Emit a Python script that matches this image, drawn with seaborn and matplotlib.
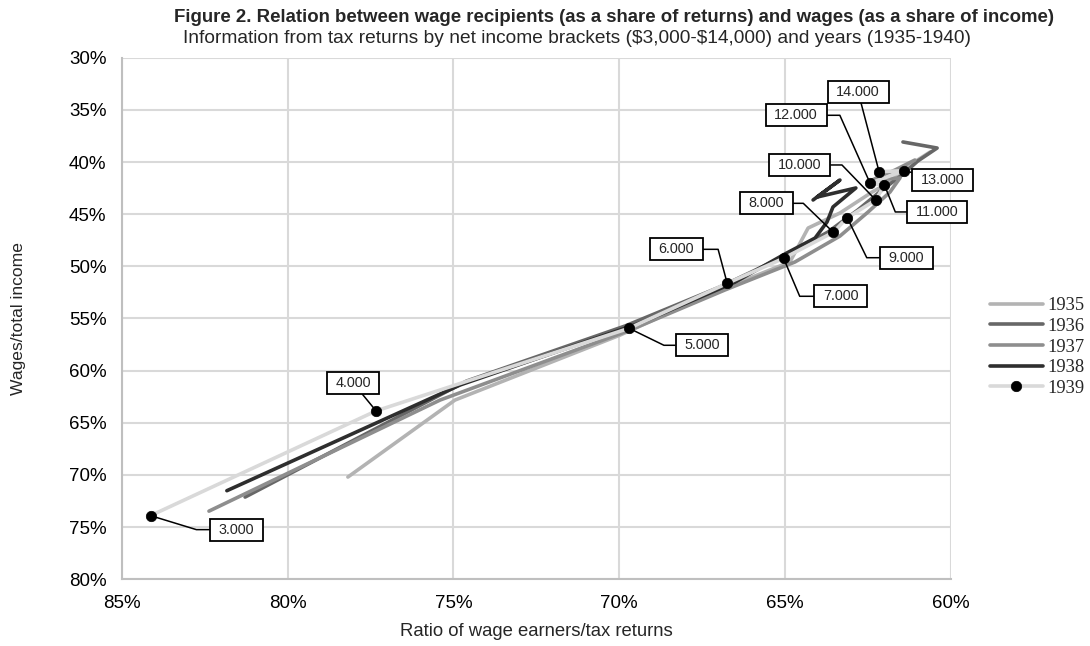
import numpy as np
import pandas as pd
import matplotlib
matplotlib.use("Agg")
import matplotlib.pyplot as plt
from matplotlib.path import Path
from matplotlib.ticker import PercentFormatter
import seaborn as sns

# ---------------- data (percent values) ----------------
brackets = ["3.000", "4.000", "5.000", "6.000", "7.000", "8.000",
            "9.000", "10.000", "11.000", "12.000", "13.000", "14.000"]
years = ["1935", "1936", "1937", "1938", "1939"]

earners_1935 = [78.18, 74.95, 69.97, 67.11, 64.85, 64.30, 63.34, 62.37, 61.62, 62.13, 61.38, 60.62]
wages_1935 = [70.20, 62.82, 56.59, 52.46, 49.59, 46.33, 44.89, 42.88, 41.53, 42.68, 40.58, 39.04]

earners_1936 = [81.28, 74.60, 69.82, 66.96, 65.00, 63.70, 62.80, 62.07, 61.47, 60.99, 60.41, 61.44]
wages_1936 = [72.12, 61.00, 55.72, 51.98, 49.01, 46.71, 44.60, 42.68, 41.25, 39.90, 38.66, 38.08]

earners_1937 = [82.37, 75.40, 69.67, 66.81, 64.70, 63.34, 62.49, 61.83, 61.53, 62.37, 61.68, 61.08]
wages_1937 = [73.47, 62.82, 56.11, 52.27, 49.59, 47.10, 44.79, 42.88, 41.53, 41.73, 40.77, 39.81]

earners_1938 = [81.83, 74.80, 69.37, 66.50, 65.00, 64.09, 63.73, 63.55, 62.86, 64.03, 63.34, 64.15]
wages_1938 = [71.51, 61.38, 55.44, 51.51, 48.82, 47.29, 45.75, 44.31, 42.49, 43.36, 41.73, 43.64]

earners_1939 = [84.13, 77.33, 69.70, 66.74, 65.04, 63.54, 63.12, 62.26, 62.00, 62.43, 61.41, 62.16]
wages_1939 = [73.90, 63.86, 55.94, 51.63, 49.23, 46.74, 45.34, 43.64, 42.20, 42.04, 40.83, 40.93]

x_ticks = [85, 80, 75, 70, 65, 60]
y_ticks = [30, 35, 40, 45, 50, 55, 60, 65, 70, 75, 80]

title = "Figure 2. Relation between wage recipients (as a share of returns) and wages (as a share of income)"
subtitle = "Information from tax returns by net income brackets ($3,000-$14,000) and years (1935-1940)"
x_label = "Ratio of wage earners/tax returns"
y_label = "Wages/total income"

series = {
    "1935": (earners_1935, wages_1935),
    "1936": (earners_1936, wages_1936),
    "1937": (earners_1937, wages_1937),
    "1938": (earners_1938, wages_1938),
    "1939": (earners_1939, wages_1939),
}
df = pd.concat(
    [pd.DataFrame({"year": y, "bracket": brackets, "earners": series[y][0],
                   "wages": series[y][1], "order": range(len(brackets))})
     for y in years],
    ignore_index=True,
)

# ---------------- styles ----------------
colors = {"1935": "#b3b3b3", "1936": "#676767", "1937": "#8e8e8e",
          "1938": "#2e2e2e", "1939": "#d9d9d9"}

# label box offsets (pixels, relative to point) and leader angles
label_offsets = [(86, -14), (-23, 28), (73, -17), (-51, 34), (57, -38), (-67, 29),
                 (59, -40), (-76, 35), (53, -27), (-74, 68), (39, -9), (-21, 80)]
leader_angles = [-17, None, -26, -75, 113, -44, 116, -46, 112, -66, None, None]

sns.set_style("white")
plt.rcParams["font.family"] = ["Liberation Sans", "DejaVu Sans"]

fig = plt.figure(figsize=(10.9, 6.46), dpi=100)
ax = fig.add_axes([0.1117, 0.1033, 0.7605, 0.8074])

for yr in years:
    d = df[df["year"] == yr].sort_values("order")
    kw = {}
    if yr == "1939":
        kw = dict(marker="o", markersize=7.5, markerfacecolor="black",
                  markeredgecolor="black", markeredgewidth=0.5)
    sns.lineplot(data=d, x="earners", y="wages", sort=False, estimator=None,
                 color=colors[yr], linewidth=2.6, ax=ax, label=yr, **kw)

ax.set_xlim(85, 60)
ax.set_ylim(80, 30)
ax.set_xticks(x_ticks)
ax.set_yticks(y_ticks)
ax.xaxis.set_major_formatter(PercentFormatter(100, decimals=0))
ax.yaxis.set_major_formatter(PercentFormatter(100, decimals=0))
ax.grid(True, color="#d9d9d9", linewidth=1.5)
ax.set_axisbelow(True)
for s in ["top", "right"]:
    ax.spines[s].set_visible(False)
for s in ["left", "bottom"]:
    ax.spines[s].set_color("#bfbfbf")
    ax.spines[s].set_linewidth(1.5)
ax.tick_params(axis="both", direction="out", length=5, width=1.2, color="#bfbfbf",
               labelsize=13.5, labelcolor="black", pad=6)

ax.set_xlabel(x_label, fontsize=13.3, va="center")
ax.xaxis.set_label_coords(0.5, -0.101)
ax.set_ylabel(y_label, fontsize=12.6, va="center")
ax.yaxis.set_label_coords(-0.125, 0.5)


def label_box(x0, y0, width, height, mutation_scale):
    px = 0.6 * mutation_scale
    py = 0.27 * mutation_scale
    verts = [(x0 - px, y0 - py), (x0 + width + px, y0 - py),
             (x0 + width + px, y0 + height + py), (x0 - px, y0 + height + py),
             (x0 - px, y0 - py)]
    return Path(verts, [Path.MOVETO, Path.LINETO, Path.LINETO, Path.LINETO, Path.CLOSEPOLY])


for i, b in enumerate(brackets):
    ang = leader_angles[i]
    if ang is None:
        cs = "arc3,rad=0"
    else:
        cs = f"angle,angleA=0,angleB={ang},rad=0"
    ax.annotate(b, xy=(earners_1939[i], wages_1939[i]), xytext=label_offsets[i],
                textcoords="offset pixels", ha="center", va="center", fontsize=10.4,
                bbox=dict(boxstyle=label_box, fc="white", ec="black", lw=1.3),
                arrowprops=dict(arrowstyle="-", color="black", lw=1.1,
                                connectionstyle=cs, shrinkA=0, shrinkB=3),
                zorder=5)

fig.text(614.5 / 1090, 1 - 21.7 / 646, title, ha="center", va="baseline",
         fontsize=13.45, fontweight="bold", parse_math=False)
fig.text(183 / 1090, 1 - 43.3 / 646, subtitle, ha="left", va="baseline",
         fontsize=13.8, parse_math=False)

handles, labels = ax.get_legend_handles_labels()
leg = ax.legend(handles, labels, loc="center left",
                bbox_to_anchor=(990 / 1090, 1 - 347 / 646), bbox_transform=fig.transFigure,
                frameon=False, borderpad=0, borderaxespad=0, handlelength=2.85,
                handletextpad=0.27, labelspacing=0.2,
                prop={"family": "Liberation Serif", "size": 13.3})

fig.savefig("out.png", dpi=100)
